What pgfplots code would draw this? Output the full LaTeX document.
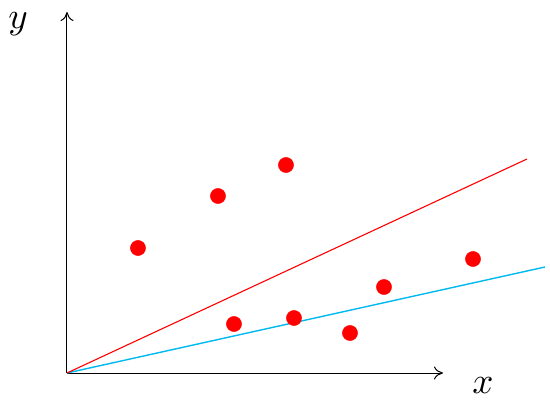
\documentclass[border=0pt]{standalone}
\usepackage{pgfplots}
\pgfplotsset{compat=1.18}
\usetikzlibrary{arrows.meta}
\definecolor{ptred}{RGB}{255,0,0}
\definecolor{fitcyan}{RGB}{0,185,240}
\begin{document}
\begin{tikzpicture}
\begin{axis}[
  x=1pt, y=1pt,
  xmin=0, xmax=376, ymin=0, ymax=361,
  axis lines=left,
  axis line style={line width=1pt, -{To[length=9pt,width=13pt]}},
  xtick=\empty, ytick=\empty,
  clip=false,
  scale only axis,
]
\path (axis cs:-67,-32) rectangle (axis cs:483,373);
\addplot[fitcyan, line width=1.4pt] coordinates {(0,0) (478,106)};
\addplot[ptred, line width=1.1pt] coordinates {(0,0) (460,214)};
\addplot[only marks, mark=*, mark size=7.6pt, ptred, mark options={draw=ptred, fill=ptred}] coordinates
  {(71,125) (151,177) (219,208) (167,49) (227,55) (283,40) (317,86) (406,114)};
\node at (axis cs:-49,349) {\scalebox{3.7}{$y$}};
\node at (axis cs:416,-13) {\scalebox{3.7}{$x$}};
\end{axis}
\end{tikzpicture}
\end{document}
